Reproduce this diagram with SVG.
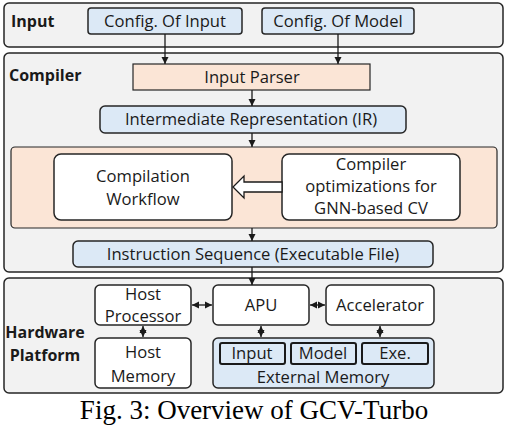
<svg xmlns="http://www.w3.org/2000/svg" width="508" height="430" viewBox="0 0 508 430">
<style>
.panel{fill:#f2f2f2;stroke:#262626;stroke-width:1.5}
.blue{fill:#dce9f6;stroke:#262626;stroke-width:1.5}
.peach{fill:#fbe5d6;stroke:#262626;stroke-width:1.2}
.white{fill:#ffffff;stroke:#262626;stroke-width:1.5}
.sb{fill:#dce9f6;stroke:#1a1a1a;stroke-width:2}
.t{font-family:"Open Sans","Noto Sans",sans-serif;font-size:16.6px;fill:#1a1a1a;text-anchor:middle}
.b{font-family:"Open Sans","Noto Sans",sans-serif;font-size:16px;font-weight:bold;fill:#1a1a1a}
.cap{font-family:"Liberation Serif",serif;font-size:27px;fill:#000;text-anchor:middle}
.ln{stroke:#1a1a1a;stroke-width:1.3;fill:none}
</style>
<defs>
<marker id="ah" markerWidth="8" markerHeight="8" refX="7" refY="4" orient="auto" markerUnits="userSpaceOnUse">
<path d="M0,0.5 L7,4 L0,7.5 Z" fill="#1a1a1a"/>
</marker>
<marker id="as" markerWidth="8" markerHeight="8" refX="1" refY="4" orient="auto" markerUnits="userSpaceOnUse">
<path d="M8,0.5 L1,4 L8,7.5 Z" fill="#1a1a1a"/>
</marker>
</defs>

<g id="input-panel">
<rect class="panel" x="4" y="3" width="499" height="44" rx="5"/>
<text class="b" x="11" y="27">Input</text>
</g>
<g id="config-input">
<rect class="blue" x="88" y="8" width="154" height="26" rx="3"/>
<text class="t" x="165" y="27">Config. Of Input</text>
</g>
<g id="config-model">
<rect class="blue" x="262" y="8" width="152" height="26" rx="3"/>
<text class="t" x="338" y="27">Config. Of Model</text>
</g>

<g id="compiler-panel">
<rect class="panel" x="4" y="53" width="499" height="219" rx="5"/>
<text class="b" x="9" y="81">Compiler</text>
</g>
<g id="input-parser">
<rect class="peach" x="133" y="64" width="237" height="26"/>
<text class="t" x="252" y="83">Input Parser</text>
</g>
<g id="ir">
<rect class="blue" x="100" y="106" width="306" height="27" rx="5"/>
<text class="t" x="251" y="125">Intermediate Representation (IR)</text>
</g>
<g id="workflow-panel">
<rect class="peach" x="11" y="147" width="486" height="81" rx="4"/>
</g>
<g id="compilation-workflow">
<rect class="white" x="54" y="154" width="178" height="66" rx="7"/>
<text class="t" x="143" y="182">Compilation</text>
<text class="t" x="143" y="205">Workflow</text>
</g>
<g id="compiler-optimizations">
<rect class="white" x="282" y="154" width="178" height="66" rx="7"/>
<text class="t" x="371" y="170">Compiler</text>
<text class="t" x="371" y="192">optimizations for</text>
<text class="t" x="371" y="214">GNN-based CV</text>
</g>
<g id="instruction-sequence">
<rect class="blue" x="73" y="241" width="360" height="26" rx="5"/>
<text class="t" x="253" y="260">Instruction Sequence (Executable File)</text>
</g>

<g id="hardware-panel">
<rect class="panel" x="4" y="278" width="499" height="115" rx="5"/>
<text class="b" x="45" y="338" text-anchor="middle">Hardware</text>
<text class="b" x="45" y="361" text-anchor="middle">Platform</text>
</g>
<g id="host-processor">
<rect class="white" x="95" y="285" width="96" height="40" rx="5"/>
<text class="t" x="143" y="300">Host</text>
<text class="t" x="143" y="322">Processor</text>
</g>
<g id="host-memory">
<rect class="white" x="95" y="338" width="96" height="50" rx="5"/>
<text class="t" x="143" y="358">Host</text>
<text class="t" x="143" y="382">Memory</text>
</g>
<g id="apu">
<rect class="white" x="213" y="285" width="96" height="40" rx="5"/>
<text class="t" x="261" y="311">APU</text>
</g>
<g id="accelerator">
<rect class="white" x="326" y="285" width="108" height="40" rx="5"/>
<text class="t" x="380" y="311">Accelerator</text>
</g>
<g id="external-memory">
<rect class="blue" x="213" y="338" width="221" height="50" rx="5"/>
<text class="t" x="323" y="383">External Memory</text>
</g>
<g id="mem-input">
<rect class="sb" x="220" y="343" width="65" height="21" rx="2"/>
<text class="t" x="252" y="359">Input</text>
</g>
<g id="mem-model">
<rect class="sb" x="291" y="343" width="65" height="21" rx="2"/>
<text class="t" x="323" y="359">Model</text>
</g>
<g id="mem-exe">
<rect class="sb" x="362" y="343" width="66" height="21" rx="2"/>
<text class="t" x="395" y="359">Exe.</text>
</g>

<g id="connectors">
<line class="ln" x1="165" y1="34" x2="165" y2="64" marker-end="url(#ah)"/>
<line class="ln" x1="338" y1="34" x2="338" y2="64" marker-end="url(#ah)"/>
<line class="ln" x1="252" y1="90" x2="252" y2="106" marker-end="url(#ah)"/>
<line class="ln" x1="252" y1="133" x2="252" y2="147" marker-end="url(#ah)"/>
<line class="ln" x1="252" y1="228" x2="252" y2="241" marker-end="url(#ah)"/>
<line class="ln" x1="252" y1="267" x2="252" y2="285" marker-end="url(#ah)"/>
<path d="M282,182 L244,182 L244,176 L233,187 L244,198 L244,192 L282,192 Z" fill="#ffffff" stroke="#1a1a1a" stroke-width="1.3"/>
<line class="ln" x1="143" y1="326" x2="143" y2="337" marker-start="url(#as)" marker-end="url(#ah)"/>
<line class="ln" x1="192" y1="305" x2="212" y2="305" marker-start="url(#as)" marker-end="url(#ah)"/>
<line class="ln" x1="310" y1="305" x2="325" y2="305" marker-start="url(#as)" marker-end="url(#ah)"/>
<line class="ln" x1="261" y1="326" x2="261" y2="337" marker-start="url(#as)" marker-end="url(#ah)"/>
<line class="ln" x1="380" y1="326" x2="380" y2="337" marker-start="url(#as)" marker-end="url(#ah)"/>
</g>

<text class="cap" x="254" y="419">Fig. 3: Overview of GCV-Turbo</text>
</svg>
